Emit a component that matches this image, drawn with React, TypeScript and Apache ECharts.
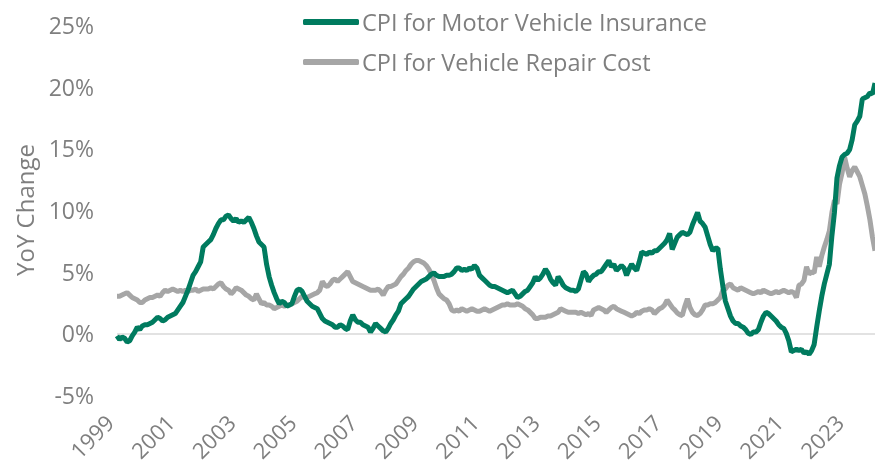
import React, { useEffect, useRef } from "react";
import * as echarts from "echarts";

const startYear = 1999;
const endYear = 2023;
const years: number[] = [];
for (let y = startYear; y <= endYear; y++) years.push(y);
const months: string[] = [];
years.forEach((y) => {
  for (let m = 1; m <= 12; m++) months.push(`${y}-${m < 10 ? "0" + m : m}`);
});

const yTicks = [-5, 0, 5, 10, 15, 20, 25];

// CPI for Motor Vehicle Insurance, YoY %, monthly Jan 1999 - Dec 2023
const insurance = [
  -0.2, -0.5, -0.3, -0.4, -0.7, -0.6, -0.2, 0.1, 0.5, 0.3, 0.6, 0.7,
  0.7, 0.8, 0.9, 1.1, 1.3, 1.2, 1.0, 1.1, 1.3, 1.4, 1.5, 1.6,
  1.9, 2.2, 2.5, 3.0, 3.5, 4.1, 4.7, 5.0, 5.4, 5.8, 7.0, 7.2,
  7.4, 7.6, 8.0, 8.5, 8.9, 9.2, 9.2, 9.5, 9.6, 9.3, 9.1, 9.3,
  9.0, 9.1, 9.0, 9.2, 9.4, 9.0, 8.5, 7.9, 7.4, 7.2, 7.0, 5.6,
  4.6, 3.9, 3.3, 2.8, 2.4, 2.6, 2.5, 2.2, 2.3, 2.4, 3.0, 3.5,
  3.6, 3.4, 3.0, 2.6, 2.4, 2.2, 2.1, 2.0, 1.6, 1.2, 1.0, 0.9,
  0.8, 0.7, 0.5, 0.5, 0.7, 0.6, 0.4, 0.3, 1.0, 1.5, 1.1, 0.9,
  0.9, 0.7, 0.6, 0.5, 0.1, 0.4, 0.8, 0.6, 0.4, 0.2, 0.1, 0.4,
  0.8, 1.1, 1.5, 1.8, 2.4, 2.6, 2.8, 3.0, 3.3, 3.6, 3.8, 4.0,
  4.2, 4.3, 4.4, 4.6, 4.8, 4.9, 4.7, 4.6, 4.6, 4.6, 4.7, 4.7,
  4.8, 5.0, 5.3, 5.3, 5.1, 5.2, 5.1, 5.3, 5.2, 5.5, 5.3, 4.7,
  4.5, 4.3, 4.1, 3.9, 3.8, 3.8, 3.7, 3.6, 3.5, 3.4, 3.3, 3.4,
  3.5, 3.2, 2.9, 3.0, 3.2, 3.4, 3.5, 3.8, 4.1, 4.6, 4.3, 4.5,
  4.8, 5.2, 4.9, 4.4, 4.1, 3.9, 4.6, 4.3, 3.9, 3.7, 3.6, 3.5,
  3.5, 3.4, 3.6, 4.3, 5.0, 4.8, 4.2, 4.5, 4.7, 4.8, 5.0, 5.0,
  5.3, 5.6, 5.9, 5.4, 5.6, 5.1, 5.3, 5.5, 5.3, 4.7, 5.2, 5.6,
  5.3, 5.1, 5.8, 6.6, 6.5, 6.4, 6.6, 6.5, 6.7, 6.7, 6.9, 7.1,
  7.3, 7.6, 8.1, 6.8, 7.3, 7.8, 8.0, 8.2, 8.1, 8.0, 8.2, 8.8,
  9.3, 9.8, 9.1, 8.9, 8.6, 7.9, 7.2, 6.7, 6.9, 6.9, 5.2, 3.8,
  2.6, 2.0, 1.4, 1.0, 0.8, 0.8, 0.6, 0.5, 0.3, 0.0, -0.1, 0.1,
  0.1, 0.3, 0.9, 1.4, 1.7, 1.6, 1.4, 1.2, 1.0, 0.7, 0.5, 0.4,
  0.0, -0.6, -1.5, -1.4, -1.3, -1.4, -1.3, -1.6, -1.5, -1.7, -1.4, -0.9,
  0.5, 1.8, 3.0, 4.0, 4.8, 5.6, 7.9, 9.8, 12.6, 13.6, 14.3, 14.5,
  14.6, 14.9, 15.7, 16.9, 17.2, 17.6, 19.0, 19.1, 19.2, 19.5, 19.4, 20.3,
];

// CPI for Vehicle Repair Cost, YoY %, monthly Jan 1999 - Dec 2023
const repair = [
  3.0, 3.0, 3.1, 3.2, 3.3, 3.1, 2.9, 2.8, 2.7, 2.5, 2.5, 2.7,
  2.8, 2.9, 2.9, 3.0, 3.1, 3.0, 3.3, 3.5, 3.4, 3.5, 3.6, 3.5,
  3.4, 3.5, 3.4, 3.5, 3.4, 3.5, 3.5, 3.6, 3.4, 3.5, 3.6, 3.6,
  3.6, 3.7, 3.6, 3.8, 4.0, 4.1, 3.8, 3.6, 3.5, 3.2, 3.4, 3.7,
  3.6, 3.5, 3.3, 3.1, 3.0, 2.8, 2.7, 3.2, 2.8, 2.4, 2.5, 2.3,
  2.3, 2.2, 2.0, 2.1, 2.2, 2.3, 2.2, 2.3, 2.3, 2.4, 2.5, 2.6,
  2.8, 3.0, 2.9, 2.9, 3.0, 3.1, 3.2, 3.3, 3.5, 4.2, 3.9, 3.8,
  4.0, 4.3, 4.4, 4.2, 4.4, 4.6, 4.8, 5.0, 4.6, 4.2, 4.1, 4.0,
  3.9, 3.8, 3.7, 3.6, 3.5, 3.5, 3.5, 3.6, 3.4, 3.1, 3.5, 3.8,
  3.8, 3.9, 4.0, 4.3, 4.6, 4.8, 5.1, 5.3, 5.6, 5.8, 5.9, 5.9,
  5.8, 5.7, 5.5, 5.2, 4.8, 4.3, 3.7, 3.2, 3.0, 2.8, 2.7, 2.4,
  1.9, 1.8, 1.9, 1.8, 2.0, 1.9, 1.8, 1.9, 2.0, 1.9, 1.8, 1.8,
  1.9, 2.0, 1.9, 1.8, 1.9, 2.0, 2.1, 2.2, 2.3, 2.3, 2.4, 2.3,
  2.3, 2.3, 2.4, 2.3, 2.2, 2.0, 1.9, 1.7, 1.5, 1.2, 1.2, 1.3,
  1.3, 1.3, 1.4, 1.4, 1.5, 1.6, 1.7, 2.0, 1.9, 1.8, 1.7, 1.7,
  1.7, 1.7, 1.6, 1.7, 1.6, 1.5, 1.6, 1.45, 1.9, 2.0, 2.1, 2.0,
  1.9, 1.7, 1.9, 2.1, 2.2, 2.0, 1.9, 1.8, 1.7, 1.6, 1.5, 1.4,
  1.5, 1.7, 1.6, 1.8, 1.9, 1.9, 2.0, 1.9, 1.6, 1.8, 2.0, 2.1,
  2.3, 2.7, 2.4, 2.1, 1.9, 1.65, 1.5, 1.45, 2.2, 2.8, 2.1, 1.7,
  1.5, 1.45, 1.6, 1.9, 2.3, 2.3, 2.4, 2.4, 2.5, 2.7, 2.9, 3.5,
  3.6, 3.9, 4.0, 3.7, 3.6, 3.5, 3.7, 3.6, 3.5, 3.4, 3.3, 3.2,
  3.3, 3.4, 3.3, 3.5, 3.4, 3.3, 3.2, 3.3, 3.4, 3.3, 3.4, 3.5,
  3.4, 3.3, 3.4, 3.3, 2.9, 3.9, 4.0, 4.3, 5.4, 4.8, 5.0, 4.9,
  6.2, 5.4, 6.3, 7.0, 7.6, 8.3, 9.8, 10.8, 10.5, 12.1, 13.0, 14.3,
  13.4, 12.7, 13.2, 13.5, 13.1, 12.7, 12.0, 11.3, 10.3, 9.2, 7.8, 6.7,
];

const seriesNames = ["CPI for Motor Vehicle Insurance", "CPI for Vehicle Repair Cost"];
const GREEN = "#007b5f";
const GRAY = "#a6a6a6";
const TEXT = "#7f7f7f";
const FONT = "'Open Sans', sans-serif";

export default function App() {
  const ref = useRef<HTMLDivElement>(null);
  useEffect(() => {
    if (!ref.current) return;
    const chart = echarts.init(ref.current, undefined, { renderer: "svg" });
    chart.setOption({
      animation: false,
      textStyle: { fontFamily: FONT },
      grid: { left: 117, right: 0, top: 25, bottom: 71, containLabel: false },
      legend: {
        show: true,
        orient: "vertical",
        left: 298,
        top: 4,
        itemGap: 14,
        itemWidth: 56,
        itemHeight: 6,
        icon: "roundRect",
        textStyle: { color: TEXT, fontSize: 23.5, fontFamily: FONT, lineHeight: 26, padding: [0, 0, 0, -2] },
        data: seriesNames,
      },
      xAxis: {
        type: "category",
        data: months,
        boundaryGap: false,
        axisLine: { show: false },
        axisTick: { show: false },
        splitLine: { show: false },
        axisLabel: {
          interval: 23,
          rotate: 45,
          margin: 31,
          verticalAlign: "bottom",
          color: TEXT,
          fontSize: 22,
          fontFamily: FONT,
          formatter: (v: string) => v.slice(0, 4),
        },
      },
      yAxis: {
        type: "value",
        min: yTicks[0],
        max: yTicks[yTicks.length - 1],
        interval: 5,
        name: "YoY Change",
        nameLocation: "middle",
        nameGap: 81,
        nameTextStyle: { color: TEXT, fontSize: 24, fontFamily: FONT },
        axisLine: { show: false },
        axisTick: { show: false },
        splitLine: { show: false },
        axisLabel: {
          color: TEXT,
          fontSize: 23,
          fontFamily: FONT,
          margin: 23,
          formatter: (v: number) => `${v}%`,
        },
      },
      series: [
        {
          name: seriesNames[1],
          type: "line",
          data: repair,
          symbol: "none",
          z: 2,
          lineStyle: { color: GRAY, width: 5 },
          itemStyle: { color: GRAY },
          markLine: {
            silent: true,
            symbol: "none",
            label: { show: false },
            lineStyle: { color: "#d9d9d9", type: "solid", width: 1.5 },
            data: [{ yAxis: 0 }],
            z: 1,
          },
        },
        {
          name: seriesNames[0],
          type: "line",
          data: insurance,
          symbol: "none",
          z: 3,
          lineStyle: { color: GREEN, width: 5 },
          itemStyle: { color: GREEN },
        },
      ],
    });
    return () => chart.dispose();
  }, []);
  return (
    <div
      ref={ref}
      style={{ position: "fixed", left: 0, top: 0, width: 875, height: 466 }}
    />
  );
}
